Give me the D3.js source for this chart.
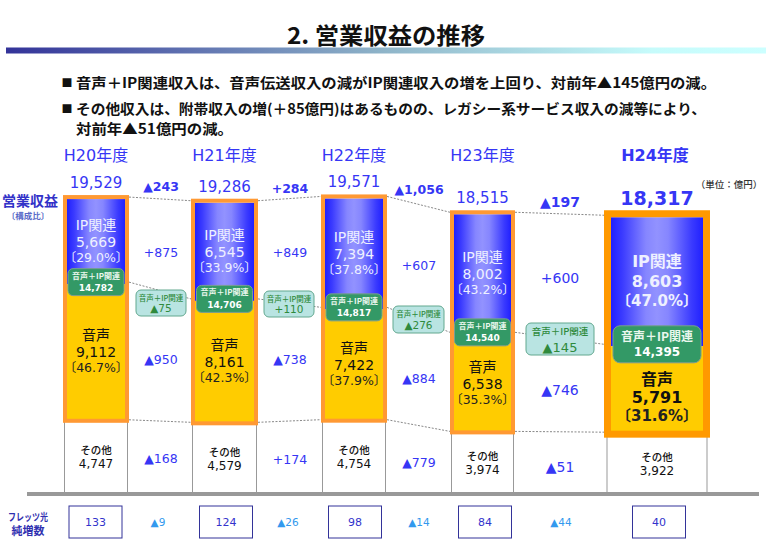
<!DOCTYPE html>
<html lang="ja"><head><meta charset="utf-8">
<script src="https://cdn.jsdelivr.net/npm/d3@7"></script>
<style>html,body{margin:0;padding:0;background:#fff}svg{display:block}</style>
</head><body><svg id="c" width="770" height="550"></svg>
<script>
const categories = ["H20年度","H21年度","H22年度","H23年度","H24年度"];
const totals   = [19529,19286,19571,18515,18317];
const ipValues = [5669,6545,7394,8002,8603];
const ipShare  = ["29.0","33.9","37.8","43.2","47.0"];
const voiceValues = [9112,8161,7422,6538,5791];
const voiceShare  = ["46.7","42.3","37.9","35.3","31.6"];
const otherValues = [4747,4579,4754,3974,3922];
const combined = [14782,14706,14817,14540,14395];
const netAdds  = [133,124,98,84,40];
const deltaLabels = ["Δ1","Δ2","Δ3","Δ4"];
const totalDelta = ["▲243","+284","▲1,056","▲197"];
const ipDelta    = ["+875","+849","+607","+600"];
const voiceDelta = ["▲950","▲738","▲884","▲746"];
const otherDelta = ["▲168","+174","▲779","▲51"];
const comboDelta = ["▲75","+110","▲276","▲145"];
const netDelta   = ["▲9","▲26","▲14","▲44"];
const bullets = [
 "音声＋IP関連収入は、音声伝送収入の減がIP関連収入の増を上回り、対前年▲145億円の減。",
 "その他収入は、附帯収入の増(＋85億円)はあるものの、レガシー系サービス収入の減等により、",
 "対前年▲51億円の減。"];

const svg = d3.select("#c");
const SANS = "'DejaVu Sans','Noto Sans CJK JP',sans-serif";
const CJK  = "'Noto Sans CJK JP','DejaVu Sans',sans-serif";
const BLUE = "#3636f5";

const y = d3.scaleLinear().domain([0,20000]).range([492,192]);
const x = d3.scaleOrdinal().domain(categories).range([96,224.5,354,482.5,657]);
const xd = d3.scaleOrdinal().domain(deltaLabels).range([161,290,419,560]);
const outerW = d3.scaleOrdinal().domain(categories).range([66,67,66,65,106]);
const bw = i => i===4 ? 7 : 4;

const defs = svg.append("defs");
const g1 = defs.append("linearGradient").attr("id","rule");
[["0%","#333399"],["50%","#8fb5c9"],["85%","#c6fbfb"],["100%","#ccffff"]].forEach(s=>g1.append("stop").attr("offset",s[0]).attr("stop-color",s[1]));
const g2 = defs.append("linearGradient").attr("id","ip");
[["0%","#2020ff"],["12%","#3a3aff"],["38%","#8686ff"],["50%","#9292ff"],["62%","#8686ff"],["88%","#3a3aff"],["100%","#2020ff"]].forEach(s=>g2.append("stop").attr("offset",s[0]).attr("stop-color",s[1]));

function T(t,px,py,size,fill,opt={}){
  const e = svg.append("text").attr("x",px).attr("y",py).text(t)
    .attr("font-size",size).attr("fill",fill)
    .attr("font-family",opt.family||SANS)
    .attr("font-weight",opt.weight||"normal")
    .attr("text-anchor",opt.anchor||"middle")
    .attr("dominant-baseline","central");
  if(opt.len) e.attr("textLength",opt.len).attr("lengthAdjust","spacingAndGlyphs");
  return e;
}

// header
T("2. 営業収益の推移",287,34,23,"#111",{anchor:"start",family:CJK,weight:700,len:198});
svg.append("rect").attr("x",6).attr("y",47.5).attr("width",760).attr("height",6).attr("fill","url(#rule)");
T("■",67,82,11,"#111",{family:CJK});
T(bullets[0],76,82,14,"#111",{anchor:"start",family:CJK,weight:700,len:640});
T("■",67,108,11,"#111",{family:CJK});
T(bullets[1],76,108,14,"#111",{anchor:"start",family:CJK,weight:700,len:630});
T(bullets[2],76,128,14,"#111",{anchor:"start",family:CJK,weight:700,len:157});

// side labels
T("営業収益",30,200,14,"#3232c8",{family:CJK,weight:700});
T("〔構成比〕",28,215,8.5,"#5a6ac8",{family:CJK,weight:700});
T("フレッツ光",28,516,10,"#3030b0",{family:CJK,weight:700,len:40});
T("純増数",28,530,11,"#3030b0",{family:CJK,weight:700});
T("（単位：億円）",729,184,9.5,"#333",{family:CJK,weight:500});

// baseline
svg.append("rect").attr("x",27).attr("y",y(0)).attr("width",732).attr("height",4).attr("fill","#999");

// connectors
const stackTop = categories.map((c,i)=>otherValues[i]+voiceValues[i]);
function connect(vals,dy){
  svg.append("g").selectAll("line").data(deltaLabels).join("line")
   .attr("x1",(d,i)=>x(categories[i])+outerW(categories[i])/2)
   .attr("x2",(d,i)=>x(categories[i+1])-outerW(categories[i+1])/2)
   .attr("y1",(d,i)=>y(vals[i])+dy).attr("y2",(d,i)=>y(vals[i+1])+dy)
   .attr("stroke","#888").attr("stroke-width",1).attr("stroke-dasharray","2 1.5");
}
connect(totals,-2); connect(stackTop,-2); connect(otherValues,-1);

// other cell lines
categories.forEach((c,i)=>{
  const w=outerW(c)/2-(i===4?3:1.5);
  [-w,w].forEach(o=>svg.append("line").attr("x1",x(c)+o).attr("x2",x(c)+o)
    .attr("y1",y(otherValues[i])).attr("y2",y(0)).attr("stroke","#999").attr("stroke-width",1));
});

// bars
const voiceShift=[0,0,0,1,8];
categories.forEach((c,i)=>{
  const b=bw(i), W=outerW(c), inner=W-2*b, L=x(c)-inner/2;
  const big=i===4, f=big?16:14, share=big?15:12.5;
  svg.append("rect").attr("x",L).attr("y",y(totals[i])).attr("width",inner).attr("height",y(stackTop[i])-y(totals[i])).attr("fill","url(#ip)");
  svg.append("rect").attr("x",L).attr("y",y(stackTop[i])).attr("width",inner).attr("height",y(otherValues[i])-y(stackTop[i])).attr("fill","#ffcc00");
  svg.append("rect").attr("x",L-b/2).attr("y",y(totals[i])-b/2).attr("width",inner+b).attr("height",y(otherValues[i])-y(totals[i])+b/2+(big?1:0))
    .attr("fill","none").attr("stroke",big?"#ff9900":"#ff9933").attr("stroke-width",b);

  // labels
  const w = big?"bold":"normal";
  T(c,x(c)-(big?2:0),155,16,BLUE,{weight:w});
  T(d3.format(",")(totals[i]),x(c),y(totals[i])-(big?19:16),big?19:15,BLUE,{weight:w});

  const ipC=(y(totals[i])+y(stackTop[i]))/2, ipCol="#eef0ff";
  T("IP関連",x(c),ipC-(big?20:17),f,ipCol,{weight:w});
  T(d3.format(",")(ipValues[i]),x(c),ipC,f,ipCol,{weight:w});
  T("〔"+ipShare[i]+"%〕",x(c),ipC+(big?19:15.5),share,ipCol,{weight:w});

  const vC=(y(stackTop[i])+y(otherValues[i]))/2+voiceShift[i];
  T("音声",x(c),vC-(big?18:17),f,"#111",{weight:w});
  T(d3.format(",")(voiceValues[i]),x(c),vC,f,"#111",{weight:w});
  T("〔"+voiceShare[i]+"%〕",x(c),vC+(big?18:15.5),share,"#222",{weight:w});

  const oC=(y(otherValues[i])+y(0))/2;
  T("その他",x(c),oC-6.5,10.5,"#111",{family:CJK,weight:500});
  T(d3.format(",")(otherValues[i]),x(c),oC+8,12,"#111");

  // combined badge
  const bh=big?37:27, bwid=big?88:56, bc=y(stackTop[i])-2;
  svg.append("rect").attr("x",x(c)-bwid/2).attr("y",bc-bh/2).attr("width",bwid).attr("height",bh).attr("rx",big?7:5)
    .attr("fill","#339966").attr("stroke","#7a9c94").attr("stroke-width",1);
  T("音声＋IP関連",x(c),bc-(big?9:7),big?12:8,"#eaf7ee",{family:CJK,weight:700});
  T(d3.format(",")(combined[i]),x(c),bc+(big?8:6),big?12:9,"#fff",{weight:"bold"});

  // net adds
  const bx=[95.5,226,355,485,659][i];
  svg.append("rect").attr("x",bx-26.5).attr("y",506).attr("width",53).attr("height",32).attr("fill","#fff").attr("stroke","#333399").attr("stroke-width",1);
  T(netAdds[i],bx,522.5,11,"#3333cc");
});

// delta columns
const dY = {top:[186,188,189,202],ip:[252,252,265,278],voice:[359,359,378,390],other:[458,459,462,467]};
const netX=[158,288,419,561];
const cb=[[136,290,50,26],[264,291,50,26],[393,306,51,27],[526,323,68,32]];
deltaLabels.forEach((d,i)=>{
  const s=i===3?14:12.5;
  T(totalDelta[i],xd(d),dY.top[i],i===3?14:12.5,BLUE,{weight:"bold"});
  T(ipDelta[i],xd(d),dY.ip[i],s,BLUE);
  T(voiceDelta[i],xd(d),dY.voice[i],s,BLUE);
  T(otherDelta[i],xd(d),dY.other[i],s,BLUE);
  const [bx,by,bw2,bh]=cb[i], big=i===3;
  svg.append("rect").attr("x",bx).attr("y",by).attr("width",bw2).attr("height",bh).attr("rx",5)
    .attr("fill","#b9e4e2").attr("stroke","#62a88f").attr("stroke-width",1);
  T("音声＋IP関連",bx+bw2/2,by+7.5,big?9.5:7.5,"#2f8a3c",{family:CJK,weight:500});
  T(comboDelta[i],bx+bw2/2,by+bh-8,big?13:10.5,"#2f8a3c");
  T(netDelta[i],netX[i],522,10.5,"#3399ee");
});
</script></body></html>
